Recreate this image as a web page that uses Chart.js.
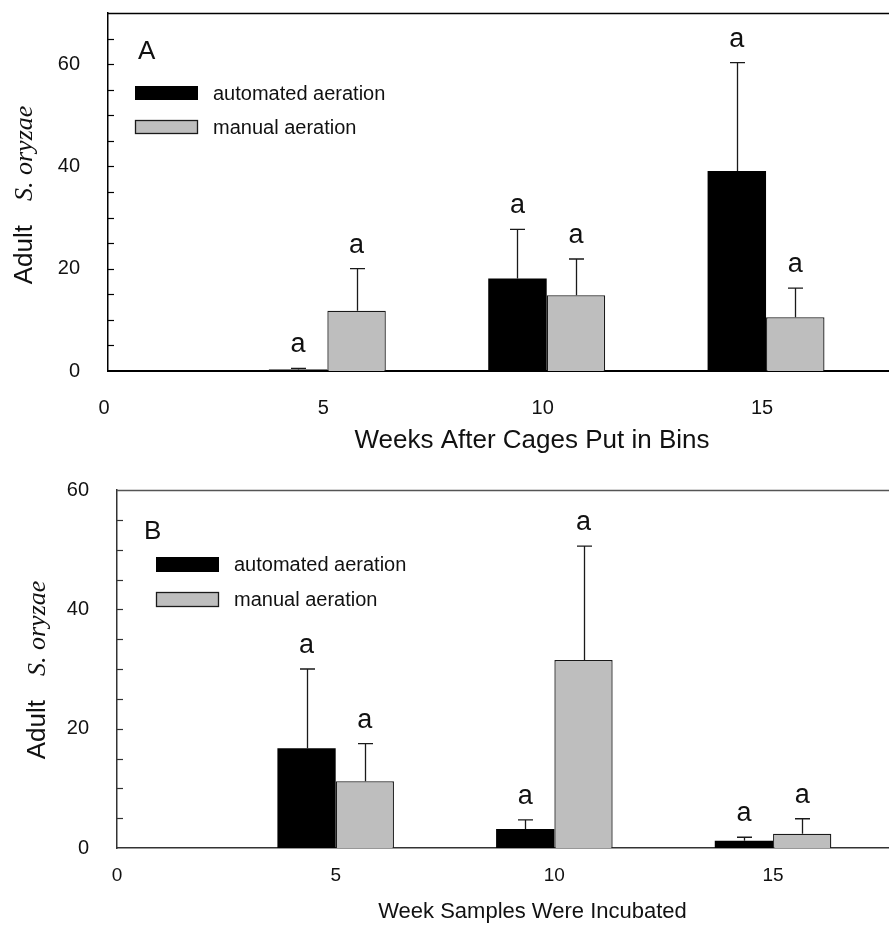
<!DOCTYPE html>
<html>
<head>
<meta charset="utf-8">
<script src="https://cdn.jsdelivr.net/npm/chart.js@4.4.1/dist/chart.umd.min.js"></script>
<style>
  html, body { margin: 0; padding: 0; background: #fff; overflow: hidden; }
  #wrap { position: relative; width: 889px; height: 925px; overflow: hidden; background: #fff; }
  .pane { position: absolute; left: 0; }
  canvas { display: block; }
</style>
</head>
<body>
<div id="wrap">
  <div class="pane" style="top:0px"><canvas id="chartA" width="956" height="460"></canvas></div>
  <div class="pane" style="top:460px"><canvas id="chartB" width="948" height="465"></canvas></div>
</div>
<script>
// ---------------- DATA ----------------
const weeks = [5, 10, 15];
const seriesNames = ['automated aeration', 'manual aeration'];

// Panel A: Weeks after cages put in bins
const xTicksA = [0, 5, 10, 15];
const yTicksA = [0, 20, 40, 60];
const automatedA = [0.3, 18.1, 39.1];
const automatedErrA = [0.2, 9.6, 21.2];
const manualA = [11.8, 14.8, 10.5];
const manualErrA = [8.2, 7.1, 5.7];
const automatedLettersA = ['a', 'a', 'a'];
const manualLettersA = ['a', 'a', 'a'];

// Panel B: Week samples were incubated
const xTicksB = [0, 5, 10, 15];
const yTicksB = [0, 20, 40, 60];
const automatedB = [16.7, 3.2, 1.2];
const automatedErrB = [13.3, 1.5, 0.6];
const manualB = [11.2, 31.5, 2.4];
const manualErrB = [6.3, 19.1, 2.5];
const automatedLettersB = ['a', 'a', 'a'];
const manualLettersB = ['a', 'a', 'a'];

// ---------------- STYLE / LAYOUT ----------------
const SANS = "'Liberation Sans', Arial, Helvetica, sans-serif";
const SERIF = "'Liberation Serif', 'Times New Roman', serif";
const TEXT = '#111';

const panelA = {
  id: 'chartA', letter: 'A', H: 460, left: 108, top: 13, axisBottom: 371, xMax: 19.33, yMax: 70,
  xTicks: xTicksA, yTicks: yTicksA,
  axisColor: '#000', xAxisW: 2, yAxisW: 1.5, topBorderColor: '#000',
  xTickFont: 20, xTickPad: 25, xLabelOffset: -4,
  xTitle: 'Weeks After Cages Put in Bins', xTitleFont: 26, xTitlePadB: 4,
  yTickPad: 28,
  legendDx: 27, legendDy: [73, 107], swW: 63, swH: 14, legendTextGap: 15,
  letterDx: 30, letterBaseDy: 46,
  yTitleDx: 76, yTitleShift: 3,
  automated: automatedA, automatedErr: automatedErrA, manual: manualA, manualErr: manualErrA,
  automatedLetters: automatedLettersA, manualLetters: manualLettersA
};
const panelB = {
  id: 'chartB', letter: 'B', H: 465, left: 117, top: 30, axisBottom: 388, xMax: 19, yMax: 60,
  xTicks: xTicksB, yTicks: yTicksB,
  axisColor: '#333', xAxisW: 1.6, yAxisW: 1.5, topBorderColor: '#555',
  xTickFont: 19, xTickPad: 16, xLabelOffset: 0,
  xTitle: 'Week Samples Were Incubated', xTitleFont: 22, xTitlePadB: 0,
  yTickPad: 28,
  legendDx: 39, legendDy: [67, 102], swW: 63, swH: 15, legendTextGap: 15,
  letterDx: 27, letterBaseDy: 49,
  yTitleDx: 72, yTitleShift: 1,
  automated: automatedB, automatedErr: automatedErrB, manual: manualB, manualErr: manualErrB,
  automatedLetters: automatedLettersB, manualLetters: manualLettersB
};

const decorPlugin = {
  id: 'decor',
  afterDraw(chart) {
    const cfg = chart.options.plugins.decor.cfg;
    const ctx = chart.ctx;
    const ca = chart.chartArea;
    const ys = chart.scales.y;
    ctx.save();

    // top frame line
    ctx.strokeStyle = cfg.topBorderColor;
    ctx.lineWidth = 1.5;
    ctx.beginPath();
    ctx.moveTo(ca.left, ca.top + 0.5);
    ctx.lineTo(ca.right, ca.top + 0.5);
    ctx.stroke();

    // inward minor ticks every 5 units
    ctx.strokeStyle = cfg.axisColor;
    ctx.lineWidth = 1.2;
    for (let v = 5; v < cfg.yMax; v += 5) {
      const py = Math.round(ys.getPixelForValue(v)) + 0.5;
      ctx.beginPath();
      ctx.moveTo(ca.left, py);
      ctx.lineTo(ca.left + 6, py);
      ctx.stroke();
    }

    // error bars and letters
    chart.data.datasets.forEach((ds, di) => {
      const meta = chart.getDatasetMeta(di);
      meta.data.forEach((bar, j) => {
        const val = ds.data[j].y;
        const err = ds.errors[j];
        const pTop = ys.getPixelForValue(val + err);
        const x = Math.round(bar.x) + 0.5;
        ctx.strokeStyle = '#1a1a1a';
        ctx.lineWidth = 1.3;
        ctx.beginPath();
        ctx.moveTo(x, bar.y);
        ctx.lineTo(x, pTop);
        ctx.moveTo(x - 7.5, pTop);
        ctx.lineTo(x + 7.5, pTop);
        ctx.stroke();
        ctx.fillStyle = TEXT;
        ctx.font = '27px ' + SANS;
        ctx.textAlign = 'center';
        ctx.textBaseline = 'alphabetic';
        ctx.fillText(ds.letters[j], bar.x, pTop - 16);
      });
    });

    // legend
    chart.data.datasets.forEach((ds, di) => {
      const lx = ca.left + cfg.legendDx;
      const ly = ca.top + cfg.legendDy[di];
      ctx.fillStyle = ds.backgroundColor;
      ctx.fillRect(lx, ly, cfg.swW, cfg.swH);
      if (ds.borderWidth) {
        ctx.strokeStyle = ds.borderColor;
        ctx.lineWidth = 1.3;
        ctx.strokeRect(lx + 0.5, ly + 0.5, cfg.swW - 1, cfg.swH - 1);
      }
      ctx.fillStyle = TEXT;
      ctx.font = '20px ' + SANS;
      ctx.textAlign = 'left';
      ctx.textBaseline = 'middle';
      ctx.fillText(ds.label, lx + cfg.swW + cfg.legendTextGap, ly + cfg.swH / 2 + 1);
    });

    // panel letter
    ctx.fillStyle = TEXT;
    ctx.font = '26px ' + SANS;
    ctx.textAlign = 'left';
    ctx.textBaseline = 'alphabetic';
    ctx.fillText(cfg.letter, ca.left + cfg.letterDx, ca.top + cfg.letterBaseDy);

    // y axis title: "Adult  S. oryzae"
    const fontA = '26px ' + SANS;
    const fontS = 'italic 26px ' + SERIF;
    ctx.font = fontA;
    const wA = ctx.measureText('Adult').width;
    ctx.font = fontS;
    const wS = ctx.measureText('S. oryzae').width;
    const gap = 24;
    const total = wA + gap + wS;
    const cy = (ca.top + ca.bottom) / 2 + cfg.yTitleShift;
    ctx.translate(ca.left - cfg.yTitleDx, cy);
    ctx.rotate(-Math.PI / 2);
    ctx.textAlign = 'left';
    ctx.textBaseline = 'alphabetic';
    ctx.font = fontA;
    ctx.fillText('Adult', -total / 2, 0);
    ctx.font = fontS;
    ctx.fillText('S. oryzae', -total / 2 + wA + gap, 0);
    ctx.restore();
  }
};

function makeChart(cfg) {
  const canvas = document.getElementById(cfg.id);
  return new Chart(canvas, {
    type: 'bar',
    data: {
      datasets: [
        {
          label: seriesNames[0],
          data: weeks.map((w, i) => ({ x: w, y: cfg.automated[i] })),
          errors: cfg.automatedErr,
          letters: cfg.automatedLetters,
          backgroundColor: '#000000',
          borderColor: '#000000',
          borderWidth: 0
        },
        {
          label: seriesNames[1],
          data: weeks.map((w, i) => ({ x: w, y: cfg.manual[i] })),
          errors: cfg.manualErr,
          letters: cfg.manualLetters,
          backgroundColor: '#bebebe',
          borderColor: '#1a1a1a',
          borderWidth: 1.3
        }
      ]
    },
    options: {
      responsive: false,
      animation: false,
      devicePixelRatio: 1,
      layout: { padding: { top: cfg.top, left: 0, right: 0, bottom: 0 } },
      datasets: { bar: { categoryPercentage: 0.533, barPercentage: 1.0 } },
      plugins: {
        legend: { display: false },
        tooltip: { enabled: false },
        decor: { cfg: cfg }
      },
      scales: {
        x: {
          type: 'linear',
          min: 0,
          max: cfg.xMax,
          offset: false,
          z: 1,
          grid: { display: false, drawTicks: false },
          border: { display: true, color: cfg.axisColor, width: cfg.xAxisW },
          ticks: {
            padding: cfg.xTickPad,
            labelOffset: cfg.xLabelOffset,
            font: { family: SANS, size: cfg.xTickFont },
            color: TEXT,
            maxRotation: 0,
            autoSkip: false
          },
          afterBuildTicks: s => { s.ticks = cfg.xTicks.map(v => ({ value: v })); },
          afterFit: s => {
            s.height = cfg.H - cfg.axisBottom;
            s.paddingLeft = 0; s.paddingRight = 0; s.paddingTop = 0; s.paddingBottom = 0;
          },
          title: {
            display: true,
            text: cfg.xTitle,
            color: TEXT,
            font: { family: SANS, size: cfg.xTitleFont },
            padding: { top: 0, bottom: cfg.xTitlePadB }
          }
        },
        y: {
          type: 'linear',
          min: 0,
          max: cfg.yMax,
          z: 1,
          grid: { display: false, drawTicks: false },
          border: { display: true, color: cfg.axisColor, width: cfg.yAxisW },
          ticks: {
            padding: cfg.yTickPad,
            font: { family: SANS, size: 20 },
            color: TEXT
          },
          afterBuildTicks: s => { s.ticks = cfg.yTicks.map(v => ({ value: v })); },
          afterFit: s => {
            s.width = cfg.left;
            s.paddingLeft = 0; s.paddingRight = 0; s.paddingTop = 0; s.paddingBottom = 0;
          }
        }
      }
    },
    plugins: [decorPlugin]
  });
}

makeChart(panelA);
makeChart(panelB);
</script>
</body>
</html>
